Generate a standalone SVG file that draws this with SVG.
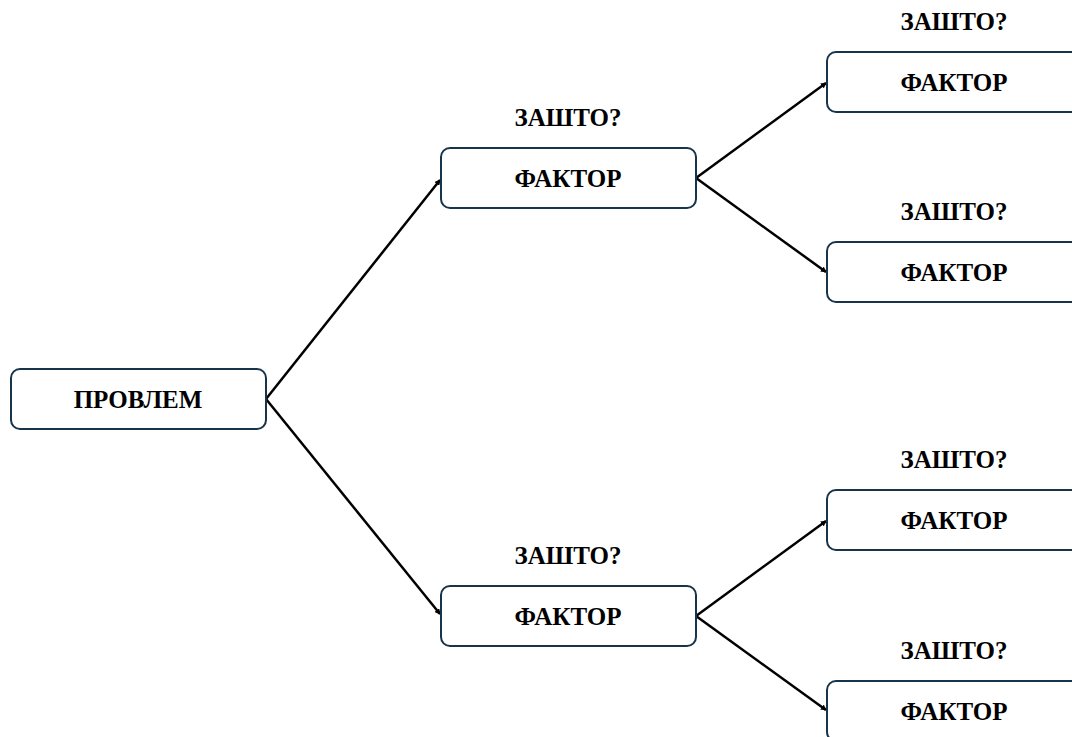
<svg xmlns="http://www.w3.org/2000/svg" width="1072" height="737" viewBox="0 0 1072 737">
<style>
.box{fill:#fff;stroke:#17344a;stroke-width:2}
.t{font-family:"Liberation Serif","Times New Roman",serif;font-weight:bold;font-size:25px;fill:#000;text-anchor:middle}
.c{stroke:#000;stroke-width:2.5;fill:none;marker-end:url(#ah)}
</style>
<defs>
<marker id="ah" markerWidth="6" markerHeight="6" refX="5" refY="3" orient="auto" markerUnits="userSpaceOnUse">
<path d="M0,0 L6,3 L0,6 z" fill="#000"/>
</marker>
</defs>
<rect width="1072" height="737" fill="#fff"/>
<g id="connectors">
<line class="c" x1="266" y1="399" x2="440" y2="180"/>
<line class="c" x1="266" y1="399" x2="440" y2="614"/>
<line class="c" x1="696" y1="178" x2="826" y2="83"/>
<line class="c" x1="696" y1="178" x2="826" y2="272"/>
<line class="c" x1="696" y1="616" x2="826" y2="521"/>
<line class="c" x1="696" y1="616" x2="826" y2="710"/>
</g>
<g id="root"><rect class="box" x="11" y="369" width="255" height="60" rx="9"/><text class="t" x="138" y="408">ПРОВЛЕМ</text></g>
<g id="f1"><text class="t" x="568" y="126">ЗАШТО?</text><rect class="box" x="441" y="148" width="255" height="60" rx="9"/><text class="t" x="568" y="187">ФАКТОР</text></g>
<g id="f2"><text class="t" x="568" y="564">ЗАШТО?</text><rect class="box" x="441" y="586" width="255" height="60" rx="9"/><text class="t" x="568" y="625">ФАКТОР</text></g>
<g id="f11"><text class="t" x="954" y="30">ЗАШТО?</text><rect class="box" x="827" y="52" width="255" height="60" rx="9"/><text class="t" x="954" y="91">ФАКТОР</text></g>
<g id="f12"><text class="t" x="954" y="220">ЗАШТО?</text><rect class="box" x="827" y="242" width="255" height="60" rx="9"/><text class="t" x="954" y="281">ФАКТОР</text></g>
<g id="f21"><text class="t" x="954" y="468">ЗАШТО?</text><rect class="box" x="827" y="490" width="255" height="60" rx="9"/><text class="t" x="954" y="529">ФАКТОР</text></g>
<g id="f22"><text class="t" x="954" y="659">ЗАШТО?</text><rect class="box" x="827" y="681" width="255" height="60" rx="9"/><text class="t" x="954" y="720">ФАКТОР</text></g>
</svg>
